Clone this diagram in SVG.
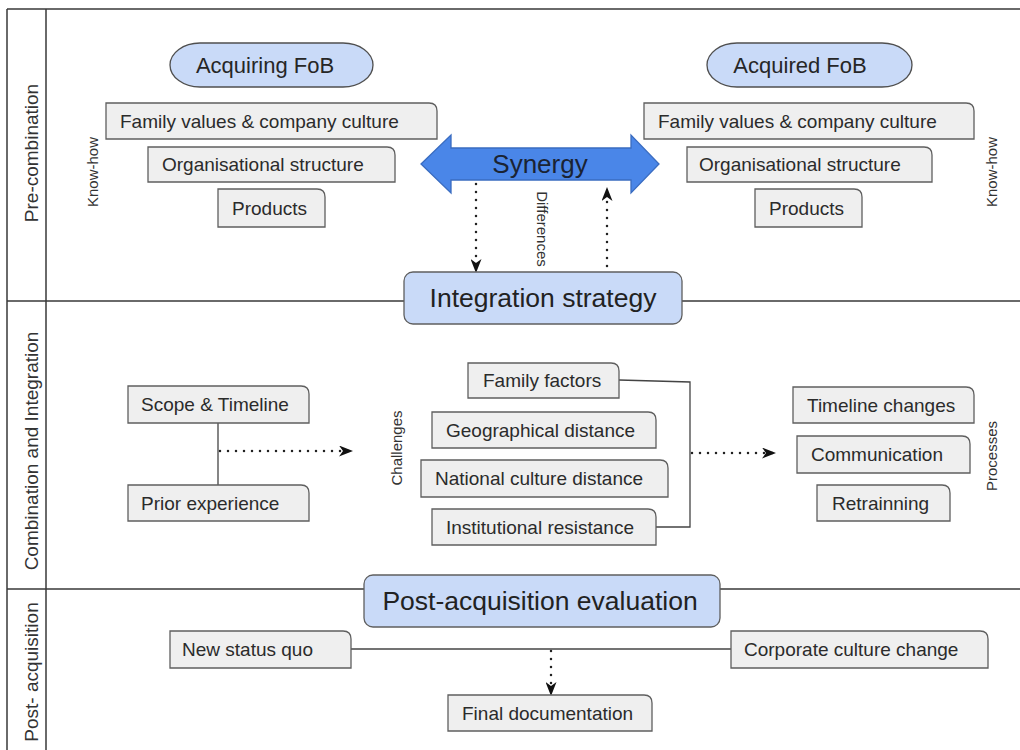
<svg xmlns="http://www.w3.org/2000/svg" width="1020" height="750" viewBox="0 0 1020 750">
  <style>
    text { font-family: "Liberation Sans", Arial, sans-serif; fill: #262626; }
    .frame { stroke: #3a3a3a; stroke-width: 1.5; fill: none; }
    .lane { font-size: 19px; fill: #333; }
    .side { font-size: 15px; fill: #333; }
    .box { fill: #efefef; stroke: #5f5f5f; stroke-width: 1.3; }
    .bt { font-size: 19px; fill: #2b2b2b; }
    .pill { fill: #c9daf8; stroke: #4f4f4f; stroke-width: 1.3; }
    .stage { fill: #c9daf8; stroke: #5f5f5f; stroke-width: 1.3; }
    .big { font-size: 26.5px; fill: #222; }
    .line { stroke: #444; stroke-width: 1.3; fill: none; }
    .dot { stroke: #222; stroke-width: 2.5; stroke-linecap: round; stroke-dasharray: 0 8; fill: none; }
  </style>
  <defs>
    <marker id="head" viewBox="0 0 14 11" refX="13" refY="5.5" markerWidth="14" markerHeight="11" markerUnits="userSpaceOnUse" orient="auto">
      <path d="M0,0 L14,5.5 L0,11 L4,5.5 z" fill="#111"/>
    </marker>
  </defs>

  <!-- swimlane frame -->
  <g id="frame">
    <path class="frame" d="M7,9 H1020 M7,9 V750 M46,9 V750"/>
    <path class="frame" d="M7,301 H404 M682,301 H1020"/>
    <path class="frame" d="M7,589 H364 M720,589 H1020"/>
    <text class="lane" transform="translate(38,153) rotate(-90)" text-anchor="middle">Pre-combination</text>
    <text class="lane" transform="translate(38,451) rotate(-90)" text-anchor="middle">Combination and Integration</text>
    <text class="lane" transform="translate(38,672) rotate(-90)" text-anchor="middle">Post- acquisition</text>
  </g>

  <!-- connectors -->
  <g id="connectors">
    <path class="line" d="M218,423 V485"/>
    <path class="line" d="M619,380 L690,382 V527 H656"/>
    <path class="line" d="M351,649 H731"/>
    <path class="dot" d="M476,184 V272" marker-end="url(#head)"/>
    <path class="dot" d="M607,274 V188" marker-end="url(#head)"/>
    <path class="dot" d="M220,451 H352" marker-end="url(#head)"/>
    <path class="dot" d="M692,453 H775" marker-end="url(#head)"/>
    <path class="dot" d="M551,651 V695" marker-end="url(#head)"/>
  </g>

  <!-- pre-combination lane -->
  <g id="acquiring-fob">
    <rect class="pill" x="170" y="43" width="203" height="44" rx="30" ry="22"/>
    <text x="265" y="73" font-size="22" text-anchor="middle">Acquiring FoB</text>
  </g>
  <g id="acquired-fob">
    <rect class="pill" x="707" y="43" width="205" height="44" rx="30" ry="22"/>
    <text x="800" y="73" font-size="22" text-anchor="middle">Acquired FoB</text>
  </g>

  <g id="left-values">
    <path class="box" d="M106,103 H429 Q437,103 437,111 V139 H106 Z"/>
    <text class="bt" x="120" y="128">Family values &amp; company culture</text>
  </g>
  <g id="left-structure">
    <path class="box" d="M148,147 H387 Q395,147 395,155 V182 H148 Z"/>
    <text class="bt" x="162" y="171">Organisational structure</text>
  </g>
  <g id="left-products">
    <path class="box" d="M218,189 H317 Q325,189 325,197 V227 H218 Z"/>
    <text class="bt" x="232" y="215">Products</text>
  </g>
  <text class="side" transform="translate(98,172) rotate(-90)" text-anchor="middle">Know-how</text>

  <g id="right-values">
    <path class="box" d="M644,103 H966 Q974,103 974,111 V139 H644 Z"/>
    <text class="bt" x="658" y="128">Family values &amp; company culture</text>
  </g>
  <g id="right-structure">
    <path class="box" d="M687,147 H924 Q932,147 932,155 V182 H687 Z"/>
    <text class="bt" x="699" y="171">Organisational structure</text>
  </g>
  <g id="right-products">
    <path class="box" d="M755,189 H854 Q862,189 862,197 V227 H755 Z"/>
    <text class="bt" x="769" y="215">Products</text>
  </g>
  <text class="side" transform="translate(997,172) rotate(-90)" text-anchor="middle">Know-how</text>

  <g id="synergy">
    <polygon points="421,164 451,135 451,148 631,148 631,135 659,164 631,193 631,180 451,180 451,193" fill="#4a86e8" stroke="#3a6cc0" stroke-width="1.3"/>
    <text x="540" y="173" font-size="26" text-anchor="middle" style="fill:#1a2333">Synergy</text>
  </g>
  <text class="side" transform="translate(537,229) rotate(90)" text-anchor="middle">Differences</text>

  <g id="integration-strategy">
    <rect class="stage" x="404" y="272" width="278" height="52" rx="9"/>
    <text class="big" x="543" y="307" text-anchor="middle">Integration strategy</text>
  </g>

  <!-- combination and integration lane -->
  <g id="scope-timeline">
    <path class="box" d="M128,386 H301 Q309,386 309,394 V423 H128 Z"/>
    <text class="bt" x="141" y="411">Scope &amp; Timeline</text>
  </g>
  <g id="prior-experience">
    <path class="box" d="M128,485 H301 Q309,485 309,493 V521 H128 Z"/>
    <text class="bt" x="141" y="510">Prior experience</text>
  </g>

  <text class="side" transform="translate(402,448) rotate(-90)" text-anchor="middle">Challenges</text>
  <g id="family-factors">
    <path class="box" d="M468,363 H611 Q619,363 619,371 V398 H468 Z"/>
    <text class="bt" x="483" y="387">Family factors</text>
  </g>
  <g id="geographical-distance">
    <path class="box" d="M432,412 H648 Q656,412 656,420 V448 H432 Z"/>
    <text class="bt" x="446" y="437">Geographical distance</text>
  </g>
  <g id="national-culture-distance">
    <path class="box" d="M421,460 H660 Q668,460 668,468 V497 H421 Z"/>
    <text class="bt" x="435" y="485">National culture distance</text>
  </g>
  <g id="institutional-resistance">
    <path class="box" d="M432,509 H648 Q656,509 656,517 V545 H432 Z"/>
    <text class="bt" x="446" y="534">Institutional resistance</text>
  </g>

  <g id="timeline-changes">
    <path class="box" d="M793,387 H966 Q974,387 974,395 V423 H793 Z"/>
    <text class="bt" x="807" y="412">Timeline changes</text>
  </g>
  <g id="communication">
    <path class="box" d="M797,436 H962 Q970,436 970,444 V473 H797 Z"/>
    <text class="bt" x="811" y="461">Communication</text>
  </g>
  <g id="retrainning">
    <path class="box" d="M817,485 H942 Q950,485 950,493 V521 H817 Z"/>
    <text class="bt" x="832" y="510">Retrainning</text>
  </g>
  <text class="side" transform="translate(997,456) rotate(-90)" text-anchor="middle">Processes</text>

  <!-- post-acquisition lane -->
  <g id="post-acquisition-evaluation">
    <rect class="stage" x="364" y="575" width="356" height="52" rx="9"/>
    <text class="big" x="540" y="610" text-anchor="middle">Post-acquisition evaluation</text>
  </g>
  <g id="new-status-quo">
    <path class="box" d="M170,631 H343 Q351,631 351,639 V668 H170 Z"/>
    <text class="bt" x="182" y="656">New status quo</text>
  </g>
  <g id="corporate-culture-change">
    <path class="box" d="M731,631 H980 Q988,631 988,639 V668 H731 Z"/>
    <text class="bt" x="744" y="656">Corporate culture change</text>
  </g>
  <g id="final-documentation">
    <path class="box" d="M448,695 H644 Q652,695 652,703 V731 H448 Z"/>
    <text class="bt" x="462" y="720">Final documentation</text>
  </g>
</svg>
